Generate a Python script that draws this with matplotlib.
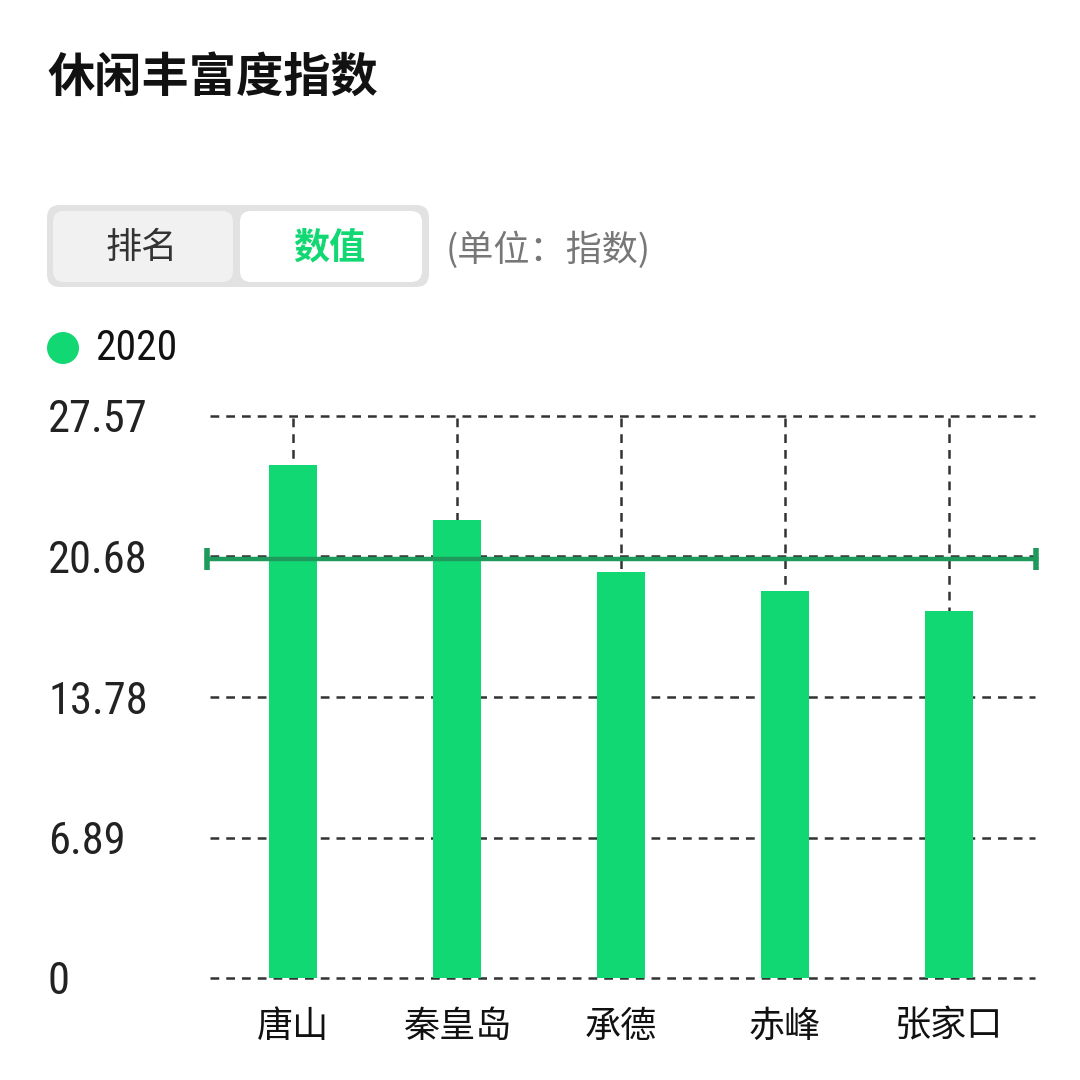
import matplotlib.pyplot as plt
from matplotlib.patches import FancyBboxPatch, Circle
from matplotlib import font_manager

plt.rcParams['font.family'] = ['Noto Sans CJK SC', 'DejaVu Sans']

# data
cities = ['唐山', '秦皇岛', '承德', '赤峰', '张家口']
values = [25.17, 22.47, 19.92, 18.99, 18.01]
avg_value = 20.56
y_ticks = [0, 6.89, 13.78, 20.68, 27.57]
y_labels = ['0', '6.89', '13.78', '20.68', '27.57']
series_name = '2020'

bar_green = '#12d873'
avg_green = '#1e9a5c'
grid_col = '#333333'

# narrow font for the numbers if one exists
names = {f.name for f in font_manager.fontManager.ttflist}
num_font = ['DejaVu Sans']
for cand in ['Liberation Sans Narrow', 'Roboto Condensed', 'Open Sans Condensed',
             'Noto Sans Condensed', 'DejaVu Sans Condensed']:
    if cand in names:
        num_font = [cand, 'DejaVu Sans']
        break

W = H = 1080
fig = plt.figure(figsize=(10.8, 10.8), dpi=100)


def fx(px):
    return px / W


def fy(py):
    return 1 - py / H


# title
fig.text(fx(47), fy(78), '休闲丰富度指数', fontsize=34, fontweight='bold',
         color='#111111', ha='left', va='center')

# toggle box
fig.patches.append(FancyBboxPatch((fx(47), fy(287)), fx(382), fy(205) - fy(287),
                                  boxstyle='round,pad=0,rounding_size=0.012',
                                  transform=fig.transFigure, fc='#e2e2e2', ec='none'))
fig.patches.append(FancyBboxPatch((fx(53), fy(282)), fx(180), fy(211) - fy(282),
                                  boxstyle='round,pad=0,rounding_size=0.01',
                                  transform=fig.transFigure, fc='#f1f1f1', ec='none'))
fig.patches.append(FancyBboxPatch((fx(240), fy(282)), fx(182), fy(211) - fy(282),
                                  boxstyle='round,pad=0,rounding_size=0.01',
                                  transform=fig.transFigure, fc='white', ec='none'))
fig.text(fx(142), fy(248), '排名', fontsize=26, color='#333333', ha='center', va='center')
fig.text(fx(329), fy(248), '数值', fontsize=26, color=bar_green, fontweight='bold',
         ha='center', va='center')
fig.text(fx(446), fy(250), '(单位：指数)', fontsize=26, color='#777777',
         ha='left', va='center')

# legend
fig.patches.append(Circle((fx(63), fy(348)), fx(16), transform=fig.transFigure,
                          fc=bar_green, ec='none'))
fig.text(fx(95), fy(348), series_name, fontsize=30, family=num_font, fontstretch='condensed',
         color='#111111', ha='left', va='center')

# axes
ax = fig.add_axes([fx(210), fy(978), fx(1035 - 210), (978 - 416) / H])
x = list(range(len(cities)))
ax.set_xlim(-0.506, 4.524)
ax.set_ylim(0, 27.57)

for yt in y_ticks:
    ax.axhline(yt, color=grid_col, lw=1.8, ls=(0, (3.5, 2.8)), zorder=1, clip_on=False)
ax.vlines(x, 0, 27.57, color=grid_col, lw=1.8, linestyles=[(0, (3.5, 2.8))], zorder=1)

ax.bar(x, values, width=0.29, color=bar_green, zorder=2)

ax.plot([-0.525, 4.53], [avg_value, avg_value], color=avg_green, lw=3.2,
        zorder=3, clip_on=False)
ax.plot([-0.525, 4.53], [avg_value, avg_value], ls='none', marker='|',
        markersize=16, markeredgewidth=4, color=avg_green, zorder=3, clip_on=False)

for s in ax.spines.values():
    s.set_visible(False)
ax.set_yticks(y_ticks)
ax.set_yticklabels(y_labels, family=num_font, fontstretch='condensed', fontsize=32,
                   color='#222222', ha='left')
ax.tick_params(axis='y', length=0, pad=(210 - 48) * 0.72)
ax.set_xticks(x)
ax.set_xticklabels(cities, fontsize=26, color='#111111')
ax.tick_params(axis='x', length=0, pad=22)

fig.savefig('out.png', dpi=100, facecolor='white')
